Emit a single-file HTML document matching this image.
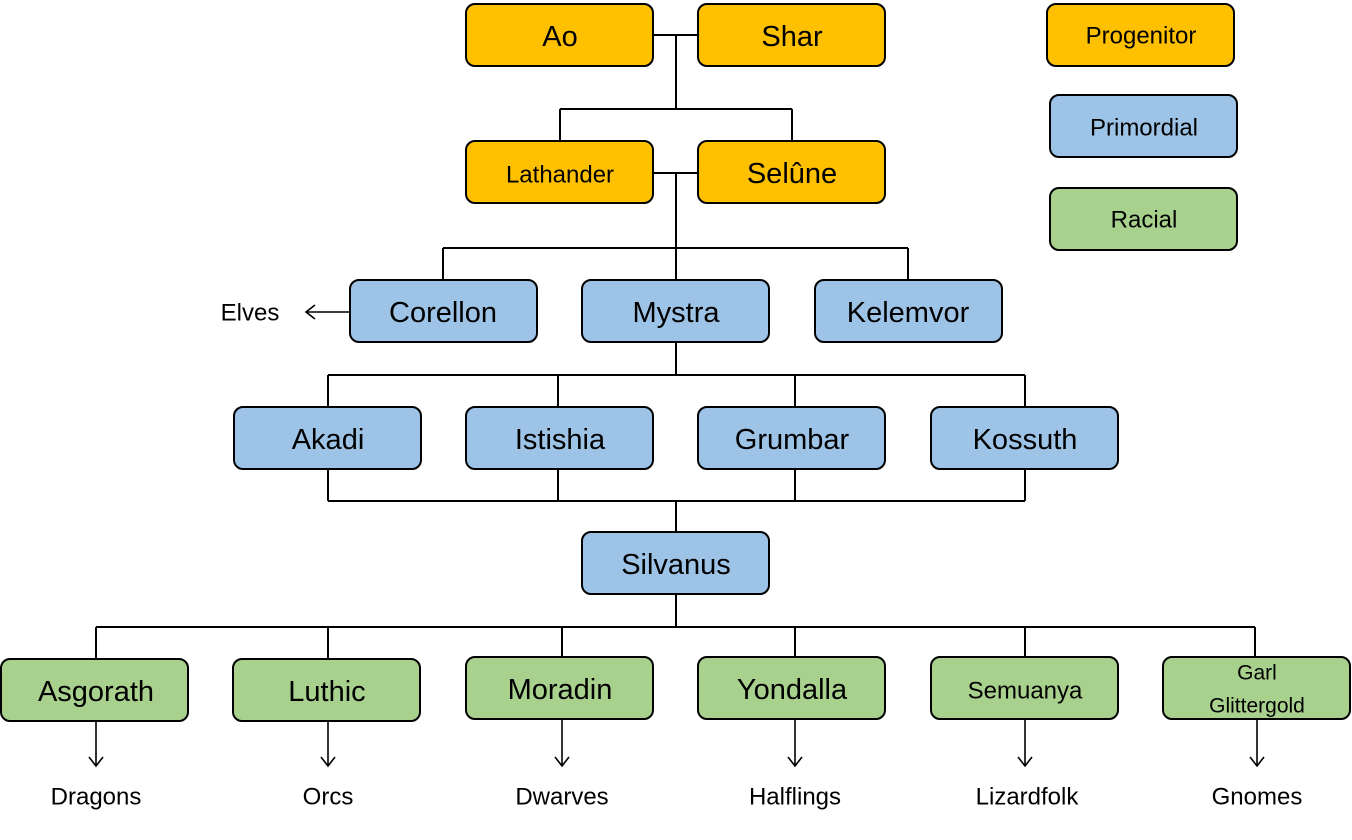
<!DOCTYPE html>
<html><head><meta charset="utf-8"><style>
html,body{margin:0;padding:0;background:#fff;}
svg text{font-family:"Liberation Sans",sans-serif;fill:#000;text-anchor:middle;dominant-baseline:central;}
</style></head><body>
<svg width="1352" height="835" viewBox="0 0 1352 835" xmlns="http://www.w3.org/2000/svg">
<defs>
<marker id="ah" markerWidth="16" markerHeight="16" refX="10" refY="8" orient="auto" markerUnits="userSpaceOnUse">
<path d="M1,1 L10,8 L1,15" fill="none" stroke="#000" stroke-width="1.6"/>
</marker>
</defs>
<g stroke="#000" stroke-width="2" fill="none">
<path d="M653,35H698 M676,35V109 M560,109H792 M560,109V141 M792,109V141"/>
<path d="M653,173H698 M676,173V248 M443,248H908 M443,248V280 M676,248V280 M908,248V280"/>
<path d="M676,342V375 M328,375H1025 M328,375V407 M558,375V407 M795,375V407 M1025,375V407"/>
<path d="M328,469V501 M558,469V501 M795,469V501 M1025,469V501 M328,501H1025 M676,501V532"/>
<path d="M676,594V627 M96,627H1255 M96,627V659 M328,627V659 M562,627V657 M795,627V657 M1025,627V657 M1255,627V657"/>
</g>
<g stroke="#000" stroke-width="1.6" fill="none" marker-end="url(#ah)">
<path d="M350,312H306"/>
<path d="M96,721V766"/><path d="M328,721V766"/><path d="M562,719V766"/>
<path d="M795,719V766"/><path d="M1025,719V766"/><path d="M1257,719V766"/>
</g>
<g stroke="#000" stroke-width="2">
<rect x="466" y="4" width="187" height="62" rx="9" fill="#FFC000"/>
<rect x="698" y="4" width="187" height="62" rx="9" fill="#FFC000"/>
<rect x="1047" y="4" width="187" height="62" rx="9" fill="#FFC000"/>
<rect x="1050" y="95" width="187" height="62" rx="9" fill="#9DC3E6"/>
<rect x="1050" y="188" width="187" height="62" rx="9" fill="#A9D18E"/>
<rect x="466" y="141" width="187" height="62" rx="9" fill="#FFC000"/>
<rect x="698" y="141" width="187" height="62" rx="9" fill="#FFC000"/>
<rect x="350" y="280" width="187" height="62" rx="9" fill="#9DC3E6"/>
<rect x="582" y="280" width="187" height="62" rx="9" fill="#9DC3E6"/>
<rect x="815" y="280" width="187" height="62" rx="9" fill="#9DC3E6"/>
<rect x="234" y="407" width="187" height="62" rx="9" fill="#9DC3E6"/>
<rect x="466" y="407" width="187" height="62" rx="9" fill="#9DC3E6"/>
<rect x="698" y="407" width="187" height="62" rx="9" fill="#9DC3E6"/>
<rect x="931" y="407" width="187" height="62" rx="9" fill="#9DC3E6"/>
<rect x="582" y="532" width="187" height="62" rx="9" fill="#9DC3E6"/>
<rect x="1" y="659" width="187" height="62" rx="9" fill="#A9D18E"/>
<rect x="233" y="659" width="187" height="62" rx="9" fill="#A9D18E"/>
<rect x="466" y="657" width="187" height="62" rx="9" fill="#A9D18E"/>
<rect x="698" y="657" width="187" height="62" rx="9" fill="#A9D18E"/>
<rect x="931" y="657" width="187" height="62" rx="9" fill="#A9D18E"/>
<rect x="1163" y="657" width="187" height="62" rx="9" fill="#A9D18E"/>
</g>
<g font-size="29">
<text x="560" y="37">Ao</text><text x="792" y="37">Shar</text>
<text x="792" y="174">Selûne</text>
<text x="443" y="313">Corellon</text><text x="676" y="313">Mystra</text><text x="908" y="313">Kelemvor</text>
<text x="328" y="440">Akadi</text><text x="560" y="440">Istishia</text><text x="792" y="440">Grumbar</text><text x="1025" y="440">Kossuth</text>
<text x="676" y="565">Silvanus</text>
<text x="96" y="692">Asgorath</text><text x="327" y="692">Luthic</text><text x="560" y="690">Moradin</text><text x="792" y="690">Yondalla</text>
</g>
<g font-size="24">
<text x="560" y="175">Lathander</text>
<text x="1141" y="36">Progenitor</text><text x="1144" y="128">Primordial</text><text x="1144" y="220">Racial</text>
<text x="1025" y="691">Semuanya</text>
<text x="250" y="313">Elves</text>
<text x="96" y="797">Dragons</text><text x="328" y="797">Orcs</text><text x="562" y="797">Dwarves</text>
<text x="795" y="797">Halflings</text><text x="1027" y="797">Lizardfolk</text><text x="1257" y="797">Gnomes</text>
</g>
<g font-size="21">
<text x="1257" y="673">Garl</text><text x="1257" y="706">Glittergold</text>
</g>
</svg>
</body></html>
